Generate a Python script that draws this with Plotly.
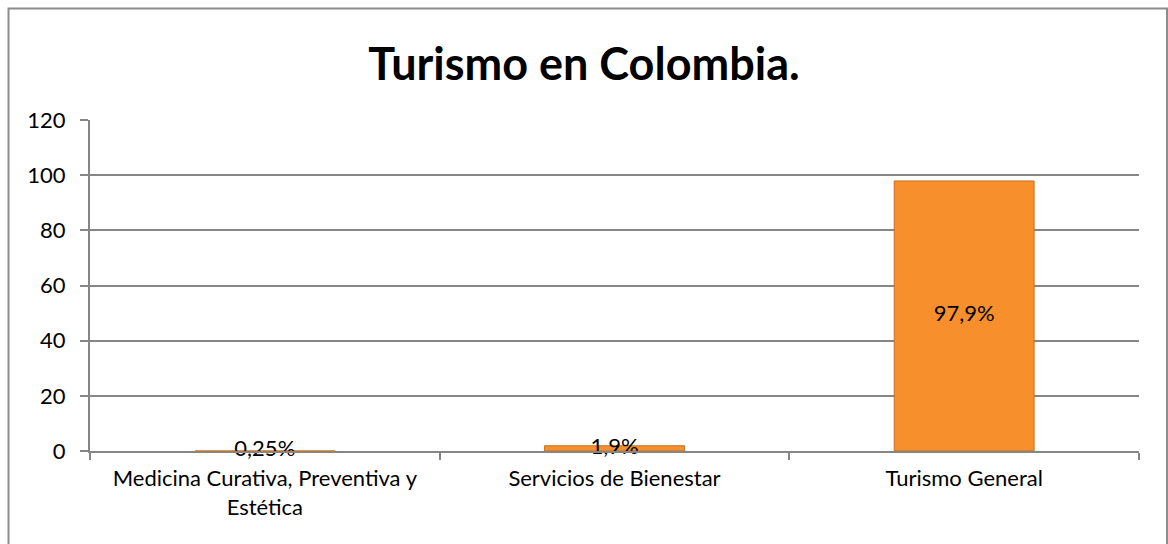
import plotly.graph_objects as go

categories = ["Medicina Curativa, Preventiva y<br>Estética", "Servicios de Bienestar", "Turismo General"]
values = [0.25, 1.9, 97.9]
labels = ["0,25%", "1,9%", "97,9%"]
title_text = "Turismo en Colombia."
y_ticks = [0, 20, 40, 60, 80, 100, 120]

FONT = "Lato, Carlito, Calibri, sans-serif"

fig = go.Figure()
fig.add_trace(go.Bar(
    x=categories, y=values,
    marker=dict(color="#F7902C", line=dict(color="#C96E1C", width=[0, 1, 1])),
    width=0.4, hoverinfo="skip", showlegend=False,
))
fig.add_trace(go.Scatter(
    x=categories, y=[v / 2 for v in values], text=labels,
    mode="text", textposition="middle center",
    textfont=dict(family=FONT, size=22, color="#000000"),
    hoverinfo="skip", showlegend=False, cliponaxis=False,
))

W, H = 1168, 544
L, R, T, B = 90, 29, 120, 93
pw, ph = W - L - R, H - T - B

fig.update_layout(
    width=W, height=H,
    margin=dict(l=L, r=R, t=T, b=B),
    paper_bgcolor="white", plot_bgcolor="white",
    font=dict(family=FONT, size=22, color="#000000"),
    title=dict(text="<b>" + title_text + "</b>", x=0.5, xanchor="center",
               y=1 - 64 / H, yanchor="middle",
               font=dict(family=FONT, size=45, color="#000000")),
    xaxis=dict(showline=True, linecolor="#868686", linewidth=2,
               ticks="outside", tickson="boundaries", ticklen=7, tickcolor="#868686", tickwidth=2,
               ticklabelstandoff=7,
               showgrid=False, tickfont=dict(family=FONT, size=22)),
    yaxis=dict(range=[0, 120], tickvals=y_ticks, showline=True, linecolor="#868686", linewidth=2,
               ticks="outside", ticklen=8, tickcolor="#868686", tickwidth=2,
               ticklabelstandoff=10,
               showgrid=True, gridcolor="#868686", gridwidth=2, zeroline=False,
               tickfont=dict(family=FONT, size=22)),
    shapes=[dict(type="rect", xref="paper", yref="paper",
                 x0=(8.5 - L) / pw, x1=(1167 - L) / pw,
                 y0=(H - T - 560) / ph, y1=(H - B - 8.5) / ph,
                 line=dict(color="#8C8C8C", width=2), fillcolor="rgba(0,0,0,0)", layer="below")],
)

fig.write_html("out.html")
